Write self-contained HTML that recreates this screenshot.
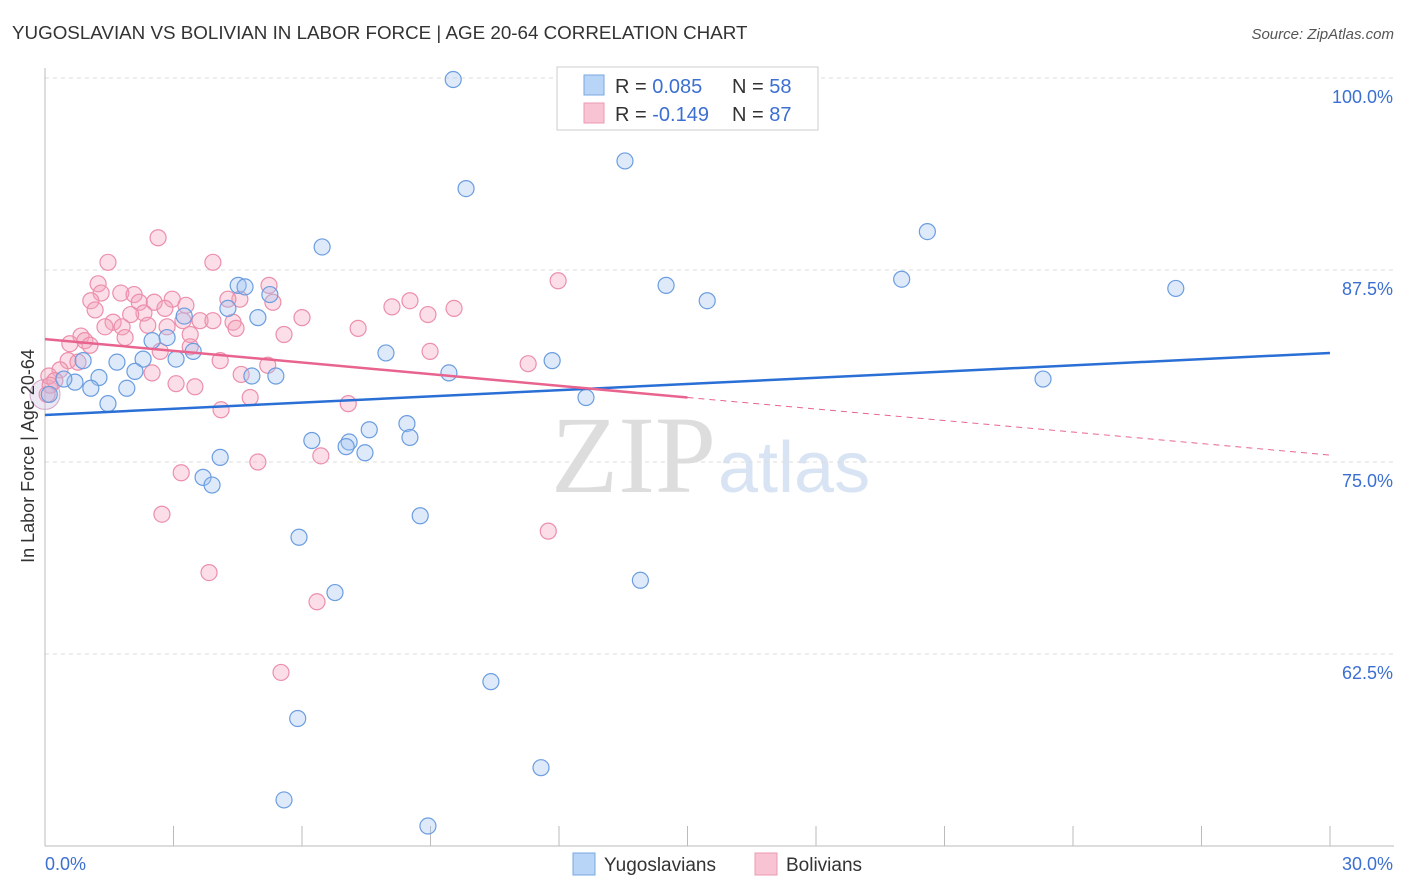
<!DOCTYPE html>
<html><head><meta charset="utf-8"><style>
body{margin:0;background:#fff;font-family:"Liberation Sans",sans-serif;}
</style></head><body>
<svg id="c" width="1406" height="892" style="position:absolute;left:0;top:0">
<text x="12" y="39" font-size="18.8" fill="#333">YUGOSLAVIAN VS BOLIVIAN IN LABOR FORCE | AGE 20-64 CORRELATION CHART</text>
<text x="1394" y="39" font-size="15" fill="#555" font-style="italic" text-anchor="end">Source: ZipAtlas.com</text>
<text x="716" y="492" font-size="110" fill="#ddd" text-anchor="end" font-family="Liberation Serif">ZIP</text>
<text x="718" y="492" font-size="72" fill="#d8e4f4">atlas</text>
<g id="grid"></g><g id="axes"></g><g id="marks"></g>
<text transform="translate(34,456) rotate(-90)" font-size="18" fill="#333" text-anchor="middle">In Labor Force | Age 20-64</text>
<g>
<rect x="557" y="67" width="261" height="63" fill="#fff" stroke="#ccc"/>
<rect x="584" y="75" width="20" height="20" fill="#b8d4f6" stroke="#7aa7e0"/>
<rect x="584" y="103" width="20" height="20" fill="#f8c4d3" stroke="#ec9ab3"/>
<text x="615" y="93" font-size="20" fill="#333">R = <tspan fill="#3b6fd1">0.085</tspan><tspan x="732">N = </tspan><tspan fill="#3b6fd1">58</tspan></text>
<text x="615" y="121" font-size="20" fill="#333">R = <tspan fill="#3b6fd1">-0.149</tspan><tspan x="732">N = </tspan><tspan fill="#3b6fd1">87</tspan></text>
</g>
<g>
<rect x="573" y="853" width="22" height="22" fill="#b8d4f6" stroke="#7aa7e0"/>
<text x="604" y="871" font-size="19" fill="#333">Yugoslavians</text>
<rect x="755" y="853" width="22" height="22" fill="#f8c4d3" stroke="#ec9ab3"/>
<text x="786" y="871" font-size="19" fill="#333">Bolivians</text>
</g>
</svg>
<script>
const xTicks=[0,30];
const yTicks=[100,87.5,75,62.5];
const yTickLabels=["100.0%","87.5%","75.0%","62.5%"];
const blueX=[9.53,13.54,9.83,20.6,6.47,20.0,26.4,14.5,15.46,4.51,4.67,5.25,4.27,4.97,3.25,2.85,2.5,3.46,3.06,2.29,1.68,0.89,7.96,11.84,2.1,1.26,0.7,0.44,1.07,1.91,1.47,4.83,5.39,9.43,12.63,23.3,8.45,7.57,8.52,6.23,7.1,7.03,7.47,4.09,3.69,3.9,8.76,5.93,13.9,6.77,10.41,5.9,11.58,5.58,8.94,0.1];
const blueY=[99.9,94.6,92.8,90.0,89.0,86.9,86.3,86.5,85.5,86.5,86.4,85.9,85.0,84.4,84.5,83.1,82.9,82.2,81.7,81.7,81.5,81.6,82.1,81.6,80.9,80.5,80.2,80.4,79.8,79.8,78.8,80.6,80.6,80.8,79.2,80.4,77.5,77.1,76.6,76.4,76.3,76.0,75.6,75.3,74.0,73.5,71.5,70.1,67.3,66.5,60.7,58.3,55.1,53.0,51.3,79.4];
const pinkX=[2.64,1.47,3.92,11.98,1.24,5.23,1.31,1.77,2.08,2.97,4.55,4.27,8.52,2.55,1.07,2.2,3.29,5.32,9.55,8.1,1.17,2.8,8.94,2.31,2.0,1.59,3.22,3.62,3.92,6.0,4.39,4.46,1.4,1.8,2.4,2.85,7.31,5.58,3.39,0.84,1.87,0.93,1.05,0.58,3.39,2.69,8.99,4.09,0.54,0.77,5.2,11.28,0.35,2.5,4.58,0.09,0.23,3.06,3.5,0.12,4.79,7.08,4.11,4.97,6.44,3.18,2.73,11.75,3.83,6.35,5.51,0.05];
const pinkY=[89.6,88.0,88.0,86.8,86.6,86.5,86.0,86.0,85.9,85.6,85.6,85.6,85.5,85.4,85.5,85.4,85.2,85.4,85.0,85.1,84.9,85.0,84.6,84.7,84.6,84.1,84.2,84.2,84.2,84.4,84.1,83.7,83.8,83.8,83.9,83.8,83.7,83.3,83.3,83.2,83.1,82.9,82.6,82.7,82.5,82.2,82.2,81.6,81.6,81.5,81.3,81.4,81.0,80.8,80.7,80.6,80.3,80.1,79.9,80.0,79.2,78.8,78.4,75.0,75.4,74.3,71.6,70.5,67.8,65.9,61.3,79.4];
const blueTrend=[78.06,82.1];
const pinkTrend=[83.0,79.2,75.45];
const pinkSolidEnd=15.0;
const X=v=>45+v/30*1285;
const Y=v=>78+(100-v)/12.5*192;
const NS="http://www.w3.org/2000/svg";
function mk(t,a,p){const e=document.createElementNS(NS,t);for(const k in a)e.setAttribute(k,a[k]);p.appendChild(e);return e;}
const grid=document.getElementById('grid'),axes=document.getElementById('axes'),marks=document.getElementById('marks');
yTicks.forEach((v,i)=>{
 const l=mk('line',{x1:45,x2:1394,y1:Y(v),y2:Y(v),stroke:'#ddd','stroke-dasharray':'4,4'},grid);
 
 
 const t=mk('text',{x:1393,y:Y(v)+25,'font-size':18,fill:'#3b6fd1','text-anchor':'end'},axes);
 t.textContent=yTickLabels[i];
 
 
});
mk('line',{x1:45,x2:45,y1:68,y2:846,stroke:'#bbb'},axes);
mk('line',{x1:45,x2:1394,y1:846,y2:846,stroke:'#bbb'},axes);
for(let i=1;i<=10;i++){mk('line',{x1:X(i*3),x2:X(i*3),y1:826,y2:846,stroke:'#bbb'},axes);}
xTicks.forEach((v,i)=>{
 const t=mk('text',{x:i==0?45:1393,y:870,'font-size':18,fill:'#3b6fd1','text-anchor':i==0?'start':'end'},axes);
 t.textContent=v.toFixed(1)+'%';
 
 
});
const big=mk('circle',{cx:X(0),cy:Y(79.4),r:15,fill:'rgba(200,180,220,0.3)',stroke:'#d0a8c8','stroke-width':1},marks);


function pts(xs,ys,fill,stroke,name){xs.forEach((x,i)=>{
 const c=mk('circle',{cx:X(x),cy:Y(ys[i]),r:8,fill:fill,stroke:stroke,'stroke-width':1.2},marks);
 
 
});}
pts(pinkX,pinkY,'rgba(244,160,185,0.35)','#ec8fab','bolivian-point');
pts(blueX,blueY,'rgba(160,196,240,0.35)','#6b9de0','yugoslavian-point');
let l=mk('line',{x1:X(0),y1:Y(blueTrend[0]),x2:X(30),y2:Y(blueTrend[1]),stroke:'#2a6fd6','stroke-width':2.5},marks);


l=mk('line',{x1:X(0),y1:Y(pinkTrend[0]),x2:X(pinkSolidEnd),y2:Y(pinkTrend[1]),stroke:'#e8648f','stroke-width':2.5},marks);


l=mk('line',{x1:X(pinkSolidEnd),y1:Y(pinkTrend[1]),x2:X(30),y2:Y(pinkTrend[2]),stroke:'#e8648f','stroke-width':1,'stroke-dasharray':'6,5'},marks);


</script>
</body></html>
